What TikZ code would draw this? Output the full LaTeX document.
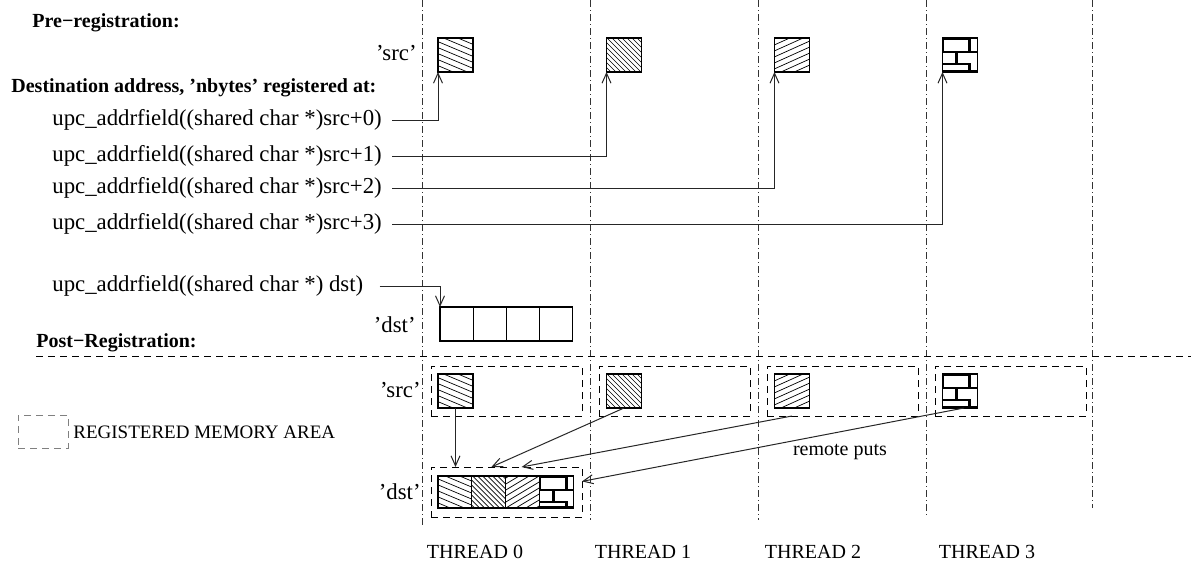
\documentclass[tikz,border=0pt]{standalone}
\usepackage{fontspec}
\setmainfont{Liberation Serif}
\usetikzlibrary{arrows.meta,positioning,calc}

\tikzset{
  txt/.style={font=\fontsize{11.4}{13}\selectfont, inner sep=0pt},
  head/.style={font=\fontsize{10}{12}\selectfont\bfseries, inner sep=0pt},
  small/.style={font=\fontsize{10}{12}\selectfont, inner sep=0pt},
  colline/.style={line width=0.5pt, black!80, dash pattern=on 3.5pt off 1.5pt on 0.5pt off 1.5pt},
  regline/.style={line width=0.45pt, dash pattern=on 3.5pt off 2.5pt},
  regbox/.style={draw, regline, minimum width=75.5pt, minimum height=25pt, inner sep=0pt, outer sep=0pt},
  cell/.style={draw, line width=0.6pt, minimum width=17.5pt, minimum height=17pt, inner sep=0pt, outer sep=0pt},
  dcell/.style={cell, minimum width=16.6pt},
  pcell/.style={cell, minimum width=16.9pt, minimum height=16pt},
  put/.style={-{Straight Barb[length=5pt, width=4.5pt]}, line width=0.5pt, black!85},
  hatch/.style 2 args={path picture={
      \begin{scope}[shift={(path picture bounding box.center)}, x=0.5pt, y=-0.5pt]
        \foreach \k in {-10,...,10}
          \draw[line width=0.35pt] (-20,{-20*#1+\k*#2}) -- (20,{20*#1+\k*#2});
      \end{scope}}}
}

% brick wall inside a cell: node, width, height (in px)
\newcommand{\brickwall}[3]{%
  \begin{scope}[shift={(#1.north west)}, line width=1.1pt]
    \draw (0.6,0) -- (0.6,14) (0,0.6) -- (27,0.6) (27,0) -- (27,14)
          (0,14) -- (#2,14) (14,14) -- (14,26) (0,26) -- (27,26) -- (27,#3)
          (0,#3-0.6) -- (#2,#3-0.6);
  \end{scope}}

\begin{document}
\begin{tikzpicture}[x=0.5pt, y=-0.5pt]
  \useasboundingbox (0,0) rectangle (1191,574);

  % Thread columns
  \foreach \x/\e in {422/525, 590/520, 758/520, 926/518, 1092/508}
    \draw[colline] (\x,0) -- (\x,\e);

  % Headings
  \node[head, anchor=west] (pre) at (32,23) {Pre−registration:};
  \node[head, anchor=west] (dest) at (11,88) {Destination address, 'nbytes' registered at:};
  \node[head, anchor=west] (post) at (36,343) {Post−Registration:};
  \draw[regline] (36,356) -- (1191,356);

  % Source blocks before registration
  \node[cell, hatch={0.42}{6}] (s0a) at (455.5,55) {};
  \node[cell, hatch={1}{5}] (s1a) at (624,55) {};
  \node[cell, hatch={-0.45}{6}] (s2a) at (792,55) {};
  \node[cell] (s3a) at (960,55) {};
  \brickwall{s3a}{35}{34}
  \node[txt, anchor=east] (srca) at (417,53) {'src'};

  % Address fields
  \foreach \i/\y in {0/120, 1/156, 2/188, 3/224}
    \node[txt, anchor=west] (u\i) at (52,\y) {upc\_addrfield((shared char *)src+\i)};
  \draw[put] ([xshift=5pt]u0.east) -| (s0a.south west);
  \draw[put] ([xshift=5pt]u1.east) -| (s1a.south west);
  \draw[put] ([xshift=5pt]u2.east) -| (s2a.south west);
  \draw[put] ([xshift=5pt]u3.east) -| (s3a.south west);

  % Destination before registration
  \node[txt, anchor=west] (ud) at (52,286) {upc\_addrfield((shared char *) dst)};
  \node[dcell] (d0) at (456.6,324) {};
  \node[dcell, right=0pt of d0] (d1) {};
  \node[dcell, right=0pt of d1] (d2) {};
  \node[dcell, right=0pt of d2] (d3) {};
  \node[txt, anchor=east] (dsta) at (416,325) {'dst'};
  \draw[put] ([xshift=8pt]ud.east) -| (d0.north west);

  % Registered areas
  \foreach \i/\x in {0/506.5, 1/674.5, 2/842.5, 3/1010.5}
    \node[regbox] (r\i) at (\x,391) {};
  \node[regbox] (dreg) at (506.5,492) {};

  \node[cell, hatch={0.42}{6}] (s0b) at (455.5,391) {};
  \node[cell, hatch={1}{5}] (s1b) at (624,391) {};
  \node[cell, hatch={-0.45}{6}] (s2b) at (792,391) {};
  \node[cell] (s3b) at (960,391) {};
  \brickwall{s3b}{35}{34}
  \node[txt, anchor=east] (srcb) at (421,390) {'src'};

  \node[pcell, hatch={0.42}{6}] (p0) at (454.9,492) {};
  \node[pcell, hatch={1}{5}, right=0pt of p0] (p1) {};
  \node[pcell, hatch={-0.6}{6}, right=0pt of p1] (p2) {};
  \node[pcell, right=0pt of p2] (p3) {};
  \brickwall{p3}{33.8}{32}
  \node[txt, anchor=east] (dstb) at (421,492) {'dst'};

  % Remote puts
  \draw[put] (s0b.south) -- (s0b.south |- dreg.north);
  \draw[put] (s1b.south) -- ($(dreg.north west)!0.4!(dreg.north east)$);
  \draw[put] (s2b.south |- r2.south) -- ($(dreg.north west)!0.6!(dreg.north east)$);
  \draw[put] ([xshift=2pt]s3b.south) -- (dreg.8);
  \node[small] (rp) at (840,452) {remote puts};

  % Legend
  \node[regbox, draw=gray, minimum width=25pt, minimum height=16.5pt] (leg) at (43,431.5) {};
  \node[small, anchor=west, font=\fontsize{9.5}{11}\selectfont] (legtxt) at (73,432) {REGISTERED MEMORY AREA};

  % Thread names
  \foreach \i/\x in {0/475, 1/643, 2/813, 3/987}
    \node[small] (t\i) at (\x,552) {THREAD \i};
\end{tikzpicture}
\end{document}
